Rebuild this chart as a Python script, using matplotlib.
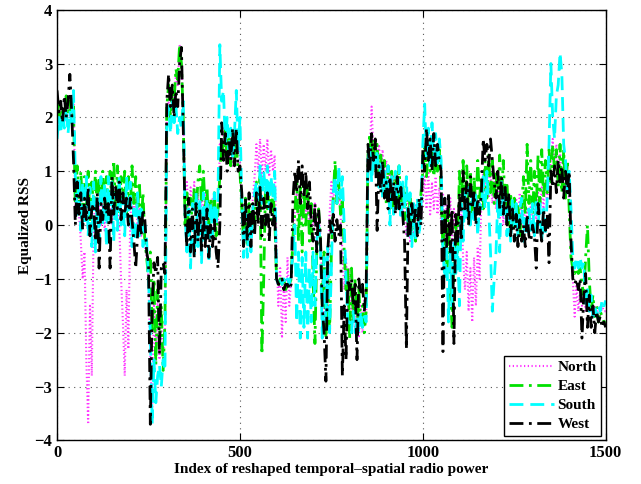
import numpy as np
import matplotlib
matplotlib.use("Agg")
import matplotlib.pyplot as plt

index = list(range(0, 1501, 5))

north = [1.8, 2.1, 2.2, 1.9, 1.9, 2.3, 2.4, 2.0, 2.0, 2.5, 0.3, 0.5, 0.2, -0.3, -1.0, -0.5, -2.5, -3.7, -1.5, -2.8,
         0.0, 0.5, 0.1, 0.4, 0.0, 0.5, -0.1, 0.3, 0.1, 0.6, 0.0, 0.4, 0.2, 0.5, 0.0, -1.0, -1.8, -2.8, -1.2, -2.3,
         0.1, 0.6, 0.2, 0.5, 0.0, 0.3, -0.2, 0.1, -0.4, -0.6, -1.0, -2.5, -3.5, -1.5, -2.6, -1.2, -2.5, -1.8, -2.4, -2.0,
         2.0, 2.3, 1.9, 2.5, 2.2, 2.8, 2.6, 3.35, 3.0, 2.0, 0.5, 0.8, 0.2, 0.7, 0.3, 0.8, 0.2, 0.6, 0.1, 0.5,
         0.2, 0.6, 0.0, 0.4, 0.1, 0.5, -0.1, 0.3, 0.0, 1.5, 1.2, 1.8, 1.3, 1.7, 1.2, 1.8, 1.1, 1.6, 1.3, 1.7,
         1.1, 0.5, 0.0, 0.4, -0.2, 0.3, -0.1, 0.5, 0.9, 1.5, 1.0, 1.6, 0.9, 1.5, 1.0, 1.6, 0.9, 1.4, 1.0, 1.3,
         -0.5, -1.5, -0.8, -2.1, -1.0, -1.8, -0.6, -1.5, -1.0, -0.5, 0.3, 0.6, 0.2, 0.5, 0.1, 0.6, 0.2, 0.5, -0.1, 0.3,
         0.0, 0.4, -0.5, 0.2, -0.2, -1.0, -2.0, -0.8, -1.5, 0.2, 0.8, 0.4, 0.9, 0.5, 0.8, 0.2, -0.5, -1.2, -0.6, -1.6,
         -0.8, -1.8, -1.2, -2.0, -1.4, -2.1, -1.5, -2.0, -1.4, -1.8, 1.0, 1.4, 2.2, 1.3, 1.6, 1.1, 1.5, 1.0, 1.4, 0.8,
         1.2, 0.6, 1.0, 0.5, 0.9, 0.4, 0.8, 0.3, 0.7, 0.2, 0.6, -0.2, 0.4, -0.3, 0.3, -0.2, 0.4, 0.0, 0.5, 0.1,
         0.5, 0.9, 0.3, 1.0, 0.2, 0.8, 0.3, 0.9, 0.2, 0.7, 0.0, 0.6, -0.3, 0.4, -0.2, 0.5, -0.4, 0.3, -0.5, 0.2,
         -0.3, 0.5, -0.6, -1.2, -0.5, -1.6, -0.8, -1.8, -0.6, -1.5, -0.4, -1.0, 0.5, 1.0, 0.6, 1.1, 0.5, 1.0, 0.4, 0.8,
         0.3, 0.8, 0.1, 0.7, 0.0, 0.6, 0.1, 0.5, -0.1, 0.4, 0.0, 0.5, 0.1, 0.6, 0.0, 0.4, -0.1, 0.3, 0.0, 0.4,
         0.0, 0.5, 0.1, 0.6, 0.2, 0.7, 0.3, 0.8, 0.4, 0.9, 1.2, 1.6, 1.0, 1.5, 0.9, 1.4, 0.8, 1.3, 0.7, 1.1,
         0.4, -0.5, -1.0, -1.7, -1.1, -1.6, -1.2, -1.5, -1.3, -1.6, -1.4, -1.6, -1.5, -1.7, -1.5, -1.6, -1.5, -1.7, -1.5, -1.6,
         -1.6]

east = [2.0, 2.3, 1.9, 2.2, 2.0, 2.4, 2.1, 2.3, 2.0, 2.2, 0.3, 1.1, 0.4, 1.0, 0.2, 0.9, 0.3, 1.0, 0.1, 0.8,
        0.3, 1.0, 0.2, 0.9, 0.4, 1.0, 0.3, 0.9, 0.2, 1.0, 0.4, 1.2, 0.3, 1.1, 0.2, 0.9, 0.4, 1.0, 0.2, 0.9,
        0.3, 1.1, 0.4, 0.9, 0.2, 0.8, 0.0, 0.6, -0.3, -0.6, -1.0, -0.5, -2.0, -1.0, -2.6, -1.2, -2.2, -1.5, -2.7, -1.8,
        2.2, 2.6, 2.0, 2.5, 2.3, 2.9, 2.7, 3.35, 3.0, 2.0, 0.0, 0.6, -0.2, 0.5, 0.0, 0.7, 0.2, 0.8, 1.1, 0.4,
        1.0, 0.3, 0.7, -0.1, 0.5, 0.0, 0.6, -0.2, 0.3, 0.9, 1.6, 1.3, 1.8, 1.2, 1.6, 1.1, 1.7, 1.2, 1.5, 1.0,
        1.0, 0.3, -0.3, 0.5, -0.4, 0.4, -0.2, 0.3, 0.0, 0.8, 0.2, 0.9, -2.4, -1.0, 0.8, 0.3, 0.7, 0.1, 0.6, 0.2,
        -1.0, -1.1, -1.0, -1.1, -1.0, -1.2, -1.1, -1.1, -1.0, -0.2, 0.2, 0.9, -0.3, 0.7, -0.5, 0.6, 0.0, 0.8, -0.3, 0.4,
        -1.0, -2.2, -0.5, 0.3, -0.3, -1.5, -0.5, -2.1, -1.0, -2.0, -0.5, 0.5, 1.2, 0.4, 0.8, 0.2, 0.5, -0.5, -1.2, -0.8,
        -2.1, -0.8, -1.8, -1.0, -2.0, -1.2, -1.8, -1.5, -2.0, -1.6, 1.3, 1.7, 1.2, 1.6, 1.0, 1.5, 0.8, 1.3, 0.7, 1.2,
        0.4, 1.1, 0.3, 1.0, 0.2, 0.9, 0.4, 1.1, 0.3, 0.8, 0.1, 0.6, 0.0, 0.5, -0.2, 0.4, -0.3, 0.3, 0.0, 0.6,
        1.0, 1.5, 0.9, 1.4, 1.0, 1.5, 0.9, 1.3, 1.0, 1.4, 0.6, -0.5, 0.2, -0.8, 0.3, -1.2, -1.9, -0.6, 0.0, -0.5,
        1.0, 0.3, 1.2, 0.4, 1.1, 0.3, 1.0, 0.2, 0.9, 0.3, 1.2, 0.5, 0.9, 0.3, 1.2, 0.5, 1.3, 0.6, 1.2, 0.4,
        1.0, 0.3, 1.3, 0.5, 1.2, 0.3, 0.8, 0.0, 0.6, -0.1, 0.5, 0.0, 0.4, -0.2, 0.3, 0.9, 0.2, 1.5, 0.4, 1.2,
        0.2, 1.0, 0.3, 1.3, 0.4, 1.4, 0.5, 1.2, 0.6, 1.4, 0.8, 1.5, 1.0, 1.4, 0.7, 1.5, 0.6, 1.4, 0.5, 1.2,
        0.3, -0.6, -0.8, -0.9, -0.8, -0.9, -0.8, -1.1, -1.3, -0.6, 0.0, -1.0, -1.6, -1.3, -1.7, -1.5, -1.8, -1.6, -1.7, -1.8,
        -1.8]

south = [1.6, 2.0, 1.7, 2.1, 1.8, 2.2, 1.7, 2.1, 1.9, 2.5, 0.9, 0.2, 0.9, -0.1, 0.8, 0.0, 0.9, -0.2, 0.7, -0.4,
         0.8, -0.5, 0.5, -0.3, 0.9, 0.0, 0.8, -0.4, 0.9, 0.1, 0.8, -0.3, 0.6, -0.1, 0.9, 0.0, 0.5, -0.2, 0.9, 0.0,
         0.8, -0.4, 0.3, -0.3, 0.6, -0.2, 0.3, -0.4, 0.0, -0.3, -1.0, -2.0, -3.7, -2.5, -3.3, -2.8, -2.6, -3.0, -2.5, -2.7,
         1.8, 2.2, 1.7, 2.3, 1.9, 2.2, 1.7, 2.0, 1.8, 2.3, 0.2, -0.5, 0.3, -0.8, 0.4, -0.6, 0.6, -0.4, 0.5, -0.7,
         0.6, -0.3, 0.5, -0.7, 0.4, -0.2, 0.6, 0.0, 0.5, 3.35, 2.3, 2.5, 1.5, 2.0, 1.4, 1.8, 1.2, 1.7, 2.5, 1.4,
         2.0, 0.5, -0.6, 0.4, -0.6, 0.2, -0.5, 0.3, 0.6, 0.8, 0.2, 1.1, 0.4, 1.0, 0.6, 1.1, 0.3, 0.9, 0.5, 1.0,
         -1.0, -1.1, -1.0, -1.1, -1.0, -1.1, -1.0, -1.1, -0.9, -0.5, 0.0, -1.8, -0.5, -2.1, -0.6, -1.9, -0.5, -2.1, -0.8, -1.8,
         -0.5, -1.5, -0.3, 0.0, -0.4, -2.1, -0.6, -1.8, -0.4, -2.0, -0.8, 0.6, 0.9, 0.4, 1.1, 0.5, 0.9, 0.0, -1.0, -1.8,
         -1.8, -2.0, -1.6, -2.0, -1.7, -2.0, -1.6, -1.9, -1.7, -1.8, 1.2, 1.5, 0.8, 1.3, 1.0, 1.4, 0.7, 1.2, 0.5, 1.0,
         0.6, 1.1, 0.0, 0.9, 0.2, 1.0, 0.3, 1.1, 0.1, 0.8, 0.3, 0.9, -0.2, 0.6, -0.4, 0.4, -0.3, 0.5, -0.2, 0.3,
         1.5, 2.25, 1.2, 1.8, 1.1, 1.9, 1.2, 1.7, 1.1, 1.6, 1.2, -0.5, -1.0, -0.3, -1.8, -0.5, -1.5, -0.3, -0.9, -0.4,
         -1.5, 0.4, -0.3, 0.6, 0.1, 0.7, 0.0, 0.5, 0.1, 0.6, -0.2, 0.4, 0.3, 0.9, 0.3, 1.0, 0.3, -0.5, -1.6, -1.0,
         -0.5, 0.5, -0.5, 0.8, 0.2, 0.6, -0.2, 0.4, -0.3, 0.5, 0.0, 0.4, -0.2, 0.3, 0.5, -0.3, 0.2, -0.2, 0.3, -0.1,
         0.4, -0.2, 0.5, 0.0, 0.4, -0.3, 0.3, -0.2, 0.5, 1.5, 3.0, 2.0, 1.6, 2.4, 2.6, 3.2, 2.8, 1.5, 1.2, 0.6,
         1.0, 0.3, -0.6, -0.8, -0.6, -0.8, -0.6, -0.8, -0.7, -1.5, -1.2, -1.6, -1.3, -1.7, -1.5, -1.7, -1.5, -1.6, -1.4, -1.5,
         -1.4]

west = [2.5, 2.1, 2.3, 1.9, 2.4, 2.0, 2.3, 2.8, 2.1, 1.2, 0.0, 0.8, 0.2, 0.6, -0.1, 0.5, 0.1, 0.7, -0.2, 0.3,
        0.4, -0.3, 0.6, -0.8, 0.4, 0.1, 0.5, 0.2, 0.4, -0.8, 0.9, 0.2, 0.7, 0.3, 0.8, 0.1, 0.6, 0.2, 0.5, 0.0,
        0.5, 0.1, -0.3, -0.8, -0.2, 0.2, -0.2, 0.3, 0.1, -0.5, -0.7, -3.7, -1.5, -0.7, -0.9, -0.6, -2.4, -0.8, -0.7, -0.9,
        2.3, 2.8, 2.2, 2.6, 2.0, 2.5, 2.2, 3.0, 3.3, 1.8, 0.2, -0.4, 0.5, -0.5, 0.3, -0.6, 0.4, -0.3, 0.3, -0.5,
        0.2, -0.4, 0.3, -0.6, 0.0, -0.4, 0.1, -0.5, -0.8, 0.0, 1.9, 1.2, 1.7, 1.0, 1.6, 1.2, 1.8, 1.1, 1.8, 1.0,
        1.1, 0.6, -0.4, 0.5, -0.3, 0.6, -0.4, 0.4, -0.2, 0.6, 0.0, 0.7, -0.2, 0.5, 0.0, 0.6, -0.3, 0.4, 0.0, 0.3,
        -1.0, -1.1, -1.1, -1.0, -1.2, -1.1, -1.1, -1.2, -1.1, 0.5, 1.0, 0.6, 1.2, 0.4, 1.1, 0.5, 1.0, 0.3, 0.8, 0.0,
        -0.3, 0.4, -0.5, 0.3, -0.2, -1.5, -2.0, -2.9, -0.5, 0.1, -0.2, 0.2, -0.3, 0.1, -0.2, 0.0, -2.8, -1.5, -2.5, -1.0,
        -1.2, -1.0, -1.5, -1.1, -2.5, -1.0, -1.3, -1.1, -1.6, -1.2, 1.5, 1.0, 1.7, 1.2, 1.6, -0.1, 1.1, 0.6, 1.2, 0.5,
        0.8, 0.3, 0.9, 0.4, 0.8, 0.2, 0.9, 0.3, 0.7, 0.2, -0.3, -2.3, 0.3, -0.2, 0.4, 0.0, 0.3, -0.2, 0.5, 0.0,
        1.4, 1.0, 1.8, 1.2, 1.6, 1.0, 1.7, 1.1, 1.5, 1.2, 1.0, -2.35, 0.5, -0.4, 0.6, -0.5, 0.3, -2.2, 0.2, -0.3,
        0.6, -0.3, 1.0, 0.3, 0.8, 0.0, 0.9, 0.3, 0.6, 0.0, 0.5, 0.2, 0.6, 1.6, 1.2, 1.5, 1.1, 1.6, 1.2, 0.8,
        0.5, 1.0, 0.3, 0.9, 0.2, 0.7, 0.0, 0.6, -0.2, 0.3, -0.3, 0.2, -0.4, 0.1, -0.3, 0.0, -0.4, 0.2, -0.2, -0.3,
        0.0, -0.2, -0.8, 0.4, 0.0, -0.3, 0.3, -0.1, 0.2, -0.7, 1.0, 0.7, 1.1, 0.6, 1.2, 0.8, 1.1, 0.5, 1.0, 0.6,
        1.0, -0.3, -1.0, -1.1, -1.0, -1.2, -1.0, -2.1, -1.3, -0.9, -1.9, -1.3, -1.9, -1.5, -2.0, -1.6, -1.8, -1.7, -1.9, -1.8,
        -1.9]

labels = ["North", "East", "South", "West"]
xticks = [0, 500, 1000, 1500]
yticks = [-4, -3, -2, -1, 0, 1, 2, 3, 4]

plt.rcParams['font.family'] = ['Liberation Serif', 'DejaVu Serif']
plt.rcParams['font.weight'] = 'bold'

fig = plt.figure(figsize=(6.41, 4.84), dpi=100)
ax = fig.add_axes([0.089, 0.090, 0.856, 0.890])

ax.plot(index, north, color='#ff33ff', lw=1.5, linestyle=(0, (0.6, 1.2)), label=labels[0])
ax.plot(index, east, color='#00e000', lw=2.0, linestyle=(0, (5, 2, 1, 2)), label=labels[1])
ax.plot(index, south, color='#00ffff', lw=2.0, linestyle=(0, (5, 2.5)), label=labels[2])
ax.plot(index, west, color='black', lw=2.0, linestyle=(0, (5, 2, 1, 2)), label=labels[3])

ax.set_xlim(0, 1500)
ax.set_ylim(-4, 4)
ax.set_xticks(xticks)
ax.set_yticks(yticks)
ax.tick_params(direction='in', top=True, right=True, labelsize=12, length=5, width=0.8)
for lab in ax.get_xticklabels() + ax.get_yticklabels():
    lab.set_fontweight('bold')
ax.grid(True, linestyle=(0, (1, 4)), color='#555555', linewidth=0.8)
for s in ax.spines.values():
    s.set_linewidth(1.0)

ax.set_xlabel('Index of reshaped temporal\u2013spatial radio power', fontsize=11, fontweight='bold', labelpad=1)
ax.set_ylabel('Equalized RSS', fontsize=11, fontweight='bold', labelpad=2)

leg = ax.legend(loc='lower right', fontsize=11, frameon=True, fancybox=False,
                edgecolor='black', framealpha=1, handlelength=3.0, handletextpad=0.2,
                borderpad=0.3, labelspacing=0.35, borderaxespad=0.3)
leg.get_frame().set_linewidth(1.0)
for t in leg.get_texts():
    t.set_fontweight('bold')

fig.savefig('out.png', dpi=100)
